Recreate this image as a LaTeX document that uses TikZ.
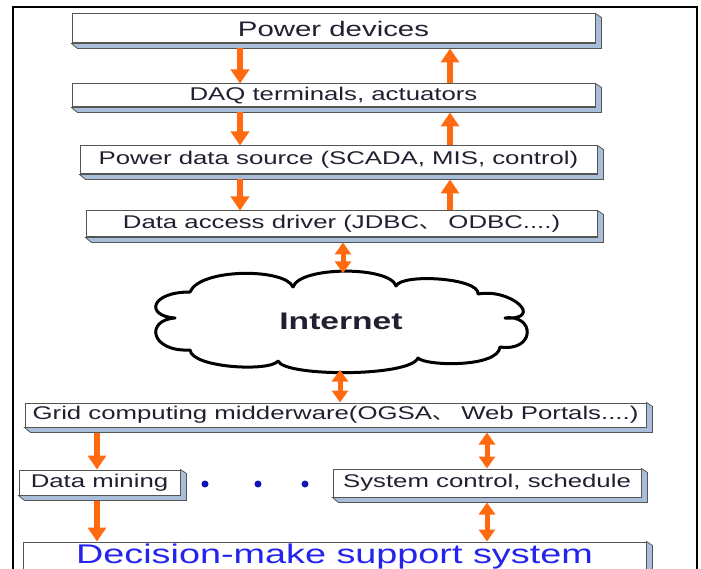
\documentclass[tikz,border=0pt]{standalone}
\usepackage{fontspec}
\setmainfont{Liberation Sans}[FakeStretch=1.4]
\newfontfamily\cjk{Noto Sans CJK SC}[FakeStretch=1.2]
\usetikzlibrary{arrows.meta,calc}
\definecolor{arrc}{HTML}{FF6A10}
\definecolor{bev}{HTML}{A9BDD8}
\definecolor{edge}{HTML}{555555}
\definecolor{txt}{HTML}{202030}
\definecolor{dssblue}{HTML}{2424EE}
\definecolor{dotblue}{HTML}{1414B4}
\tikzset{
  box/.style={draw=edge, fill=white, line width=1pt, inner sep=0pt, text=txt,
    font=\fontsize{18.4}{20}\selectfont},
  arr/.style={draw=arrc, line width=5.5pt, -{Triangle[width=18pt,length=14pt]}},
  darr/.style={draw=arrc, line width=5pt, {Triangle[width=16pt,length=12pt]}-{Triangle[width=16pt,length=12pt]}},
  dotnode/.style={circle, fill=dotblue, inner sep=0pt, minimum size=7pt},
  bevelfill/.style={fill=bev, draw=edge, line width=0.8pt},
  cloudline/.style={draw=black, line width=3pt, fill=white, line join=round},
}
\newcommand\bevl[1]{\filldraw[bevelfill] (#1.north east) -- ++(6,4) -- ($(#1.south east)+(6,5)$) -- ($(#1.south west)+(6,5)$) -- (#1.south west) -- (#1.south east) -- cycle;}
\begin{document}
\begin{tikzpicture}[x=1pt,y=-1pt]
\useasboundingbox (0,0) rectangle (701,569);
\draw[line width=2.5pt] (13,590) -- (13,7) -- (697,7) -- (697,590);

\node[box, minimum width=523pt, minimum height=29pt, font=\fontsize{21}{24}\selectfont] (pd) at (333.5,28.5) {Power devices};
\bevl{pd}
\node[box, minimum width=523pt, minimum height=23pt] (daq) at (333.5,95.5) {DAQ terminals, actuators};
\bevl{daq}
\node[box, minimum width=517pt, minimum height=28pt] (src) at (338.5,160) {Power data source (SCADA, MIS, control)};
\bevl{src}
\node[box, minimum width=511pt, minimum height=26pt] (drv) at (341.5,224) {Data access driver (JDBC{\cjk 、} ODBC....)};
\bevl{drv}

% cloud outline
\path[cloudline] (190,292)
  .. controls (200,268) and (285,268) .. (293,287)
  .. controls (300,266) and (390,266) .. (396,286)
  .. controls (402,273) and (480,278) .. (478,294)
  .. controls (512,288) and (545,320) .. (505,318)
  .. controls (535,314) and (536,352) .. (500,347)
  .. controls (498,368) and (425,366) .. (418,358)
  .. controls (410,377) and (285,377) .. (278,361)
  .. controls (270,372) and (192,368) .. (190,350)
  .. controls (150,352) and (145,320) .. (175,318)
  .. controls (145,316) and (150,292) .. (190,292) -- cycle;
\node[inner sep=0pt, minimum width=370pt, minimum height=96pt, text=txt,
  font=\bfseries\fontsize{24}{26}\selectfont] (net) at (341,321.5) {Internet};

\node[box, minimum width=621pt, minimum height=24pt] (grid) at (335.5,415) {Grid computing midderware(OGSA{\cjk 、} Web Portals....)};
\bevl{grid}
\node[box, minimum width=161pt, minimum height=25pt] (dm) at (99.5,482.5) {Data mining};
\bevl{dm}
\node[box, minimum width=308pt, minimum height=28pt] (sc) at (487,483) {System control, schedule};
\bevl{sc}
\node[box, minimum width=623pt, minimum height=30pt, text=dssblue, font=\fontsize{27}{30}\selectfont] (dss) at (334.5,557) {Decision-make support system};
\bevl{dss}

\node[dotnode] (d1) at (205,484) {};
\node[dotnode] (d2) at (258,484) {};
\node[dotnode] (d3) at (305,484) {};

\coordinate (cL) at (240,0);
\coordinate (cR) at (450,0);
\coordinate (cM) at (343,0);
\coordinate (cN) at (340,0);
\coordinate (cD) at (97,0);
\coordinate (cS) at (487,0);

\draw[arr] ($(pd.south -| cL)+(0,5)$) -- (daq.north -| cL);
\draw[arr] (daq.north -| cR) -- ($(pd.south -| cR)+(0,5)$);
\draw[arr] ($(daq.south -| cL)+(0,5)$) -- (src.north -| cL);
\draw[arr] (src.north -| cR) -- ($(daq.south -| cR)+(0,5)$);
\draw[arr] ($(src.south -| cL)+(0,5)$) -- (drv.north -| cL);
\draw[arr] (drv.north -| cR) -- ($(src.south -| cR)+(0,5)$);
\draw[darr] ($(drv.south -| cM)+(0,5)$) -- (net.north -| cM);
\draw[darr] (net.south -| cN) -- (grid.north -| cN);
\draw[arr] ($(grid.south -| cD)+(0,5)$) -- (dm.north -| cD);
\draw[darr] ($(grid.south -| cS)+(0,5)$) -- (sc.north -| cS);
\draw[arr] ($(dm.south -| cD)+(0,5)$) -- (dss.north -| cD);
\draw[darr] ($(sc.south -| cS)+(0,5)$) -- (dss.north -| cS);
\end{tikzpicture}
\end{document}
